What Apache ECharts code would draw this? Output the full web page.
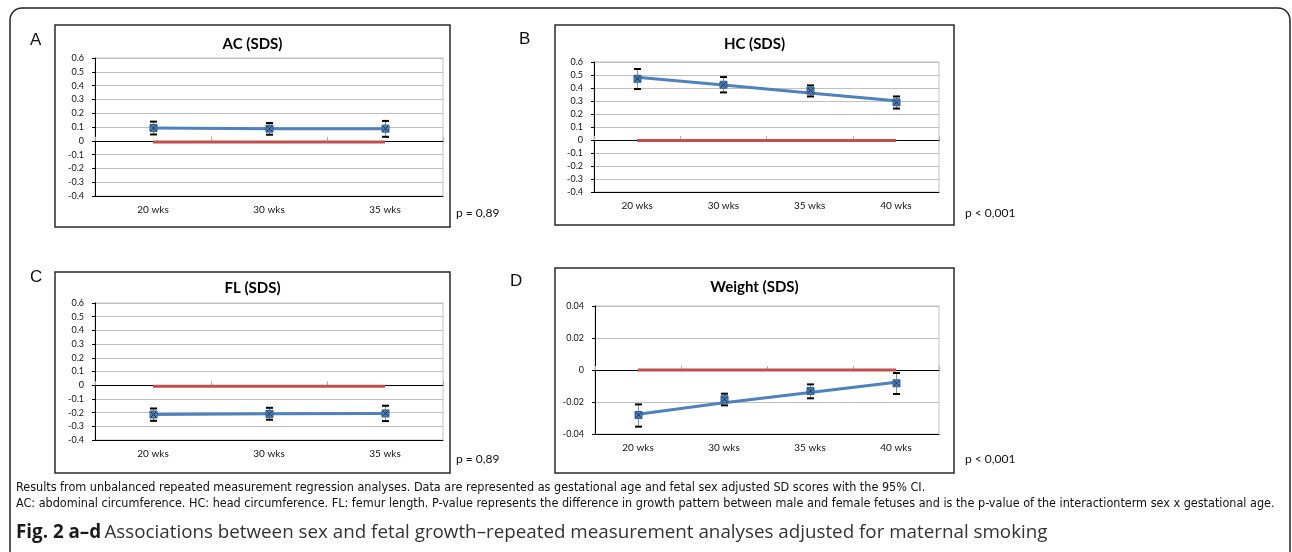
<!DOCTYPE html>
<html lang="en">

<head>
  <meta charset="UTF-8">
  <title>Fig. 2 a–d</title>
  <style>
    html, body {
      margin: 0;
      padding: 0;
      background-color: #fff;
    }

    #chart {
      width: 1292px;
      height: 552px;
    }
  </style>
</head>

<body>
  <div id="chart"></div>
  <script src="https://cdn.jsdelivr.net/npm/echarts@6/dist/echarts.min.js"></script>
  <script>
    // values
    const weeks3 = ['20 wks', '30 wks', '35 wks']
    const weeks4 = ['20 wks', '30 wks', '35 wks', '40 wks']

    const acMean = [0.093, 0.088, 0.088]
    const acLow = [0.046, 0.044, 0.029]
    const acHigh = [0.139, 0.129, 0.144]
    const acRef = [-0.008, -0.008, -0.008]

    const hcMean = [0.471, 0.425, 0.38, 0.29]
    const hcFit = [0.483, 0.423, 0.362, 0.302]
    const hcLow = [0.392, 0.366, 0.335, 0.242]
    const hcHigh = [0.546, 0.484, 0.42, 0.335]
    const hcRef = [-0.004, -0.004, -0.004, -0.004]

    const flMean = [-0.214, -0.209, -0.206]
    const flLow = [-0.26, -0.252, -0.262]
    const flHigh = [-0.17, -0.165, -0.15]
    const flRef = [-0.007, -0.007, -0.007]

    const wtMean = [-0.0281, -0.0183, -0.0131, -0.0083]
    const wtFit = [-0.0276, -0.0205, -0.014, -0.0077]
    const wtLow = [-0.0354, -0.0221, -0.0177, -0.015]
    const wtHigh = [-0.0215, -0.0148, -0.009, -0.0019]
    const wtRef = [0, 0, 0, 0]

    const panels = [
      { letter: 'A', title: 'AC (SDS)', p: 'p = 0,89', cats: weeks3, mean: acMean, fit: acMean, low: acLow, high: acHigh, ref: acRef,
        min: -0.4, max: 0.6, step: 0.1, digits: 1,
        grid: { left: 95, top: 58, width: 348, height: 138 }, box: [55, 25, 395, 202], letterPos: [30, 40], titleY: 44, pPos: [456, 213] },
      { letter: 'B', title: 'HC (SDS)', p: 'p < 0,001', cats: weeks4, mean: hcMean, fit: hcFit, low: hcLow, high: hcHigh, ref: hcRef,
        min: -0.4, max: 0.6, step: 0.1, digits: 1,
        grid: { left: 594, top: 62, width: 345, height: 130 }, box: [555, 25, 399, 200], letterPos: [519, 39], titleY: 44, pPos: [965, 213] },
      { letter: 'C', title: 'FL (SDS)', p: 'p = 0,89', cats: weeks3, mean: flMean, fit: flMean, low: flLow, high: flHigh, ref: flRef,
        min: -0.4, max: 0.6, step: 0.1, digits: 1,
        grid: { left: 95, top: 303, width: 348, height: 137 }, box: [55, 272, 395, 201], letterPos: [30, 277], titleY: 288, pPos: [456, 459] },
      { letter: 'D', title: 'Weight (SDS)', p: 'p < 0,001', cats: weeks4, mean: wtMean, fit: wtFit, low: wtLow, high: wtHigh, ref: wtRef,
        min: -0.04, max: 0.04, step: 0.02, digits: 2,
        grid: { left: 595, top: 306, width: 344, height: 128 }, box: [555, 268, 399, 205], letterPos: [510, 281], titleY: 287, pPos: [965, 459] }
    ]

    const BLUE = '#4F81BD'
    const RED = '#C0504D'
    const GRIDC = '#c0c0c0'
    const LABEL_FONT = 'Lato, "Open Sans", sans-serif'

    const grids = []
    const xAxes = []
    const yAxes = []
    const series = []
    const graphics = []

    // outer frame with rounded top corners
    graphics.push({
      type: 'rect', z: -10, silent: true,
      shape: { x: 10, y: 8, width: 1280, height: 570, r: [12, 12, 0, 0] },
      style: { fill: '#fff', stroke: '#222', lineWidth: 1.5 }
    })

    panels.forEach((pn, i) => {
      const [bx, by, bw, bh] = pn.box
      graphics.push({
        type: 'rect', z: -5, silent: true,
        shape: { x: bx, y: by, width: bw, height: bh },
        style: { fill: '#fff', stroke: '#2a2a2a', lineWidth: 1.5 }
      })
      graphics.push({
        type: 'text', z: 5, x: pn.letterPos[0], y: pn.letterPos[1],
        style: { text: pn.letter, font: '17px "Liberation Sans", Arial, sans-serif', fill: '#111', verticalAlign: 'middle' }
      })
      graphics.push({
        type: 'text', z: 5, x: bx + bw / 2, y: pn.titleY,
        style: { text: pn.title, font: 'bold 15px ' + LABEL_FONT, fill: '#000', align: 'center', verticalAlign: 'middle' }
      })
      graphics.push({
        type: 'text', z: 5, x: pn.pPos[0], y: pn.pPos[1],
        style: { text: pn.p, font: '12px ' + LABEL_FONT, fill: '#111', verticalAlign: 'middle' }
      })

      grids.push(Object.assign({ show: true, borderColor: GRIDC, borderWidth: 1, backgroundColor: 'transparent', z: 3 }, pn.grid))

      // bottom axis: category labels
      xAxes.push({
        type: 'category', gridIndex: i, data: pn.cats, position: 'bottom', z: 3,
        axisLine: { onZero: false, lineStyle: { color: '#000', width: 1 } },
        axisTick: { show: false },
        axisLabel: { fontFamily: LABEL_FONT, fontSize: 10, color: '#111', margin: 9 },
        splitLine: { show: false }
      })
      // zero axis: black line with category ticks
      xAxes.push({
        type: 'category', gridIndex: i, data: pn.cats, position: 'top', z: 3,
        axisLine: { onZero: true, onZeroAxisIndex: i, lineStyle: { color: '#000', width: 1 } },
        axisTick: { show: true, length: 4, lineStyle: { color: '#b0b0b0' } },
        axisLabel: { show: false },
        splitLine: { show: false }
      })
      yAxes.push({
        type: 'value', gridIndex: i, min: pn.min, max: pn.max, interval: pn.step, z: 3,
        axisLine: { show: true, lineStyle: { color: '#000', width: 1 } },
        axisTick: { show: true, length: 3, lineStyle: { color: '#000' } },
        axisLabel: {
          fontFamily: LABEL_FONT, fontSize: 9, color: '#111', margin: 11,
          formatter: v => String(+v.toFixed(pn.digits))
        },
        splitLine: { show: true, lineStyle: { color: GRIDC, width: 1 } }
      })

      const xi = i * 2
      series.push({
        type: 'line', xAxisIndex: xi, yAxisIndex: i, data: pn.ref, z: 4,
        symbol: 'none', lineStyle: { color: RED, width: 3 }
      })
      series.push({
        type: 'line', xAxisIndex: xi, yAxisIndex: i, data: pn.fit, z: 5,
        symbol: 'none', lineStyle: { color: BLUE, width: 3 }
      })
      // 95% CI error bars
      series.push({
        type: 'custom', xAxisIndex: xi, yAxisIndex: i, z: 6,
        data: pn.cats.map((c, k) => [k, pn.low[k], pn.high[k]]),
        renderItem: (params, api) => {
          const lo = api.coord([api.value(0), api.value(1)])
          const hi = api.coord([api.value(0), api.value(2)])
          const x = Math.round(lo[0]) + 0.5
          const cap = 3.5
          return {
            type: 'group',
            children: [
              { type: 'line', shape: { x1: x, y1: lo[1], x2: x, y2: hi[1] }, style: { stroke: '#909090', lineWidth: 1 } },
              { type: 'line', shape: { x1: x - cap, y1: lo[1], x2: x + cap, y2: lo[1] }, style: { stroke: '#000', lineWidth: 2 } },
              { type: 'line', shape: { x1: x - cap, y1: hi[1], x2: x + cap, y2: hi[1] }, style: { stroke: '#000', lineWidth: 2 } }
            ]
          }
        }
      })
      // square markers with an x
      series.push({
        type: 'custom', xAxisIndex: xi, yAxisIndex: i, z: 7,
        data: pn.cats.map((c, k) => [k, pn.mean[k]]),
        renderItem: (params, api) => {
          const pt = api.coord([api.value(0), api.value(1)])
          const s = 3.5
          const x = Math.round(pt[0]) + 0.5
          const y = pt[1]
          return {
            type: 'group',
            children: [
              { type: 'rect', shape: { x: x - s, y: y - s, width: s * 2, height: s * 2 }, style: { fill: BLUE, stroke: '#2f5a8c', lineWidth: 1 } },
              { type: 'line', shape: { x1: x - 2.5, y1: y - 2.5, x2: x + 2.5, y2: y + 2.5 }, style: { stroke: '#1b2f48', lineWidth: 1 } },
              { type: 'line', shape: { x1: x - 2.5, y1: y + 2.5, x2: x + 2.5, y2: y - 2.5 }, style: { stroke: '#1b2f48', lineWidth: 1 } }
            ]
          }
        }
      })
    })

    // captions
    const NOTE_FONT = '"Liberation Sans Narrow", "DejaVu Sans Condensed", sans-serif'
    graphics.push({
      type: 'text', z: 5, x: 16, y: 488,
      style: {
        text: 'Results from unbalanced repeated measurement regression analyses. Data are represented as gestational age and fetal sex adjusted SD scores with the 95% CI.',
        font: '12.5px ' + NOTE_FONT, fill: '#111', verticalAlign: 'middle'
      }
    })
    graphics.push({
      type: 'text', z: 5, x: 16, y: 504,
      style: {
        text: 'AC: abdominal circumference. HC: head circumference. FL: femur length. P-value represents the difference in growth pattern between male and female fetuses and is the p-value of the interactionterm sex x gestational age.',
        font: '12.5px ' + NOTE_FONT, fill: '#111', verticalAlign: 'middle'
      }
    })
    graphics.push({
      type: 'text', z: 5, x: 16, y: 533,
      style: {
        text: '{b|Fig. 2 a–d} {r|Associations between sex and fetal growth–repeated measurement analyses adjusted for maternal smoking}',
        verticalAlign: 'middle',
        rich: {
          b: { font: 'bold 18.8px "Open Sans", sans-serif', fill: '#1a1a1a' },
          r: { font: '18.8px "Open Sans", sans-serif', fill: '#333' }
        }
      }
    })

    const option = {
      animation: false,
      backgroundColor: '#fff',
      grid: grids,
      xAxis: xAxes,
      yAxis: yAxes,
      series: series,
      graphic: graphics
    }

    const myChart = echarts.init(document.getElementById('chart'))
    myChart.setOption(option)
  </script>
</body>

</html>
